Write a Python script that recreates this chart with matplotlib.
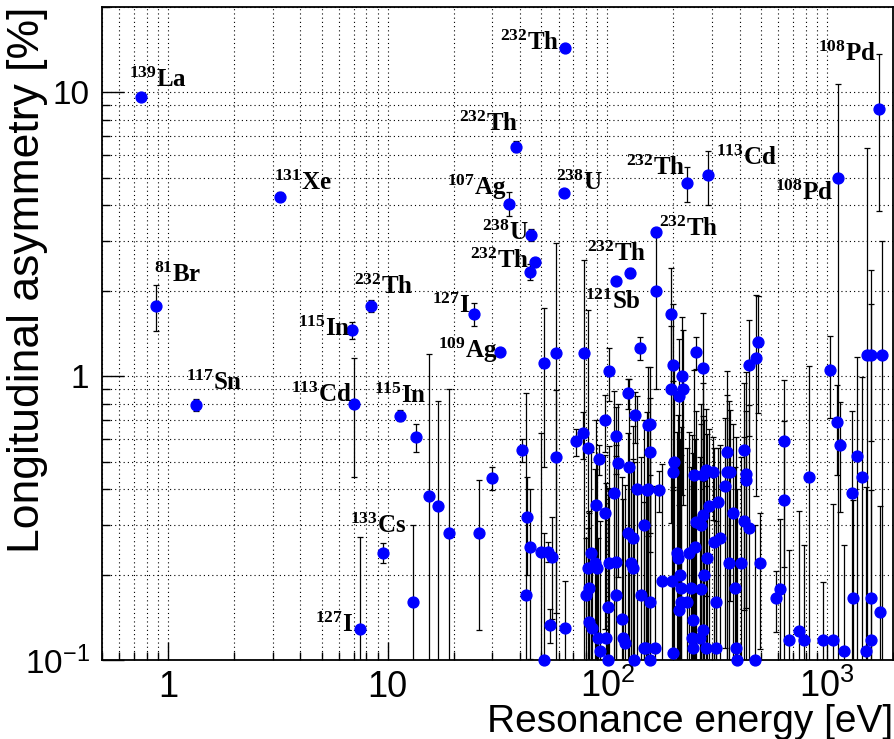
import matplotlib
matplotlib.use("Agg")
import matplotlib.pyplot as plt
import numpy as np
from matplotlib.ticker import FixedLocator, FixedFormatter, NullFormatter

plt.rcParams["mathtext.default"] = "regular"

# resonance energy [eV], asymmetry [%], symmetric error [%]
energy = np.array([
    0.754, 0.885, 1.34, 3.22, 6.9, 7.05, 7.5, 8.39, 9.5, 11.4,
    13.1, 13.4, 15.4, 16.9, 18.95, 24.7, 26.1, 29.7, 32.6, 35.7,
    38.3, 40.9, 43.0, 42.8, 44.3, 44.3, 45.1, 47.0,
    49.9, 51.4, 51.6, 53.6, 55.1, 56.1, 58.1, 58.5, 63.2, 64.3,
    64.3, 72.1, 77.9, 78.1, 79.9, 81.4, 81.4, 82.8, 82.8, 84.3,
    85.0, 87.8, 88.9, 89.4, 90.3, 92.1, 92.3, 97.9, 97.9, 98.5,
    100.3, 100.3, 101.3, 102, 107.6, 109.5, 109.5, 109.9, 110, 112.3,
    116.6, 117.4, 120.6, 123.6, 123.6, 125, 127, 128.1, 130.3, 131.6,
    132.6, 134, 136.3, 141.2, 142.1, 147.6, 147.6, 149.3, 151.5, 152.6,
    153.5, 157, 157, 157, 157, 164.6, 166.5, 166, 171.5, 178.2,
    194.5, 194.5, 197.7, 199.8, 199.8, 199.8, 200.6,
    208, 210, 212, 212, 214.3, 216.2, 217.5, 218, 220.4, 231,
    231.3, 235.4, 240, 242, 245.6, 246.2, 248, 250.6, 252.6, 254,
    266, 265, 268.2, 273.4, 273.4, 273.4, 273.4, 276, 281.5, 281.5,
    283.2, 288, 291.5, 301.5, 306.5, 311.2, 311.2, 318.7, 325.5, 342,
    349.2, 349.2, 358, 361.5, 372.8, 383.5, 386, 389, 406.4, 418,
    418, 428, 430, 440.6, 441.8, 468.4, 475.5, 484.4, 496,
    589, 614, 636, 635, 669, 748, 788, 833, 955, 1034,
    1063, 1108, 1128, 1144, 1195, 1306, 1310, 1365, 1439, 1513,
    1522, 1580, 1585, 1595, 1725, 1743, 1775,
])
asym = np.array([
    9.6, 1.77, 0.793, 4.29, 1.45, 0.80, 0.129, 1.77, 0.239, 0.727,
    0.16, 0.61, 0.379, 0.349, 0.28, 1.655, 0.28, 0.437, 1.22, 4.05,
    6.44, 0.55, 0.32, 0.17, 0.251, 2.33, 3.15, 2.52,
    0.241, 1.11, 0.1, 0.241, 0.133, 0.23, 1.206, 0.521, 4.42, 14.3,
    0.13, 0.589, 0.63, 1.206, 0.17, 0.558, 0.211, 0.18, 0.136, 0.239,
    0.13, 0.22, 0.352, 0.211, 0.12, 0.51, 0.108, 0.702, 0.329, 0.12,
    0.154, 0.1, 1.04, 0.219, 0.389, 0.617, 0.17, 0.222, 2.16, 0.496,
    0.14, 0.12, 0.115, 0.872, 0.28, 0.48, 2.31, 0.22, 0.211, 0.27,
    0.1, 0.731, 0.40, 1.26, 0.17, 0.30, 0.11, 0.11, 0.398, 0.674,
    0.40, 0.68, 0.54, 0.16, 0.1, 0.11, 2.0, 3.22, 0.398, 0.19,
    1.655, 0.903, 0.19, 1.097, 0.46, 0.106, 0.5,
    0.238, 0.228, 0.853, 0.15, 0.2, 0.179, 0.16, 1.0, 0.903, 4.78,
    0.16, 0.238, 0.179, 0.12, 0.11, 0.138, 0.449, 0.251, 0.307, 1.22,
    0.3, 0.12, 0.178, 1.068, 0.449, 0.323, 0.128, 0.2, 0.468, 0.11,
    0.228, 5.1, 0.35, 0.461, 0.26, 0.16, 0.11, 0.36, 0.27, 0.41,
    0.54, 0.461, 0.219, 0.461, 0.329, 0.179, 0.11, 0.1, 0.219, 0.55,
    0.31, 0.432, 0.452, 0.291, 1.097, 0.1, 1.158, 1.325, 0.219,
    0.166, 0.178, 0.592, 0.365, 0.118, 0.127, 0.118, 0.443, 0.118, 1.05,
    0.118, 0.688, 4.99, 0.573, 0.108, 0.387, 0.166, 0.522, 0.443, 0.108,
    1.19, 0.166, 1.19, 0.118, 8.71, 0.148, 1.19,
])
err = np.array([
    0.1, 0.33, 0.04, 0.15, 0.1, 0.36, 0.142, 0.09, 0.02, 0.033,
    0.14, 0.07, 0.82, 0.47, 0.62, 0.155, 0.152, 0.04, 0.02, 0.39,
    0.28, 0.05, 0.12, 0.70, 0.15, 0.15, 0.15, 0.1,
    0.39, 0.63, 0.18, 0.02, 0.018, 0.09, 1.75, 0.374, 0.1, 0.3,
    0.06, 0.065, 0.12, 1.36, 0.1, 1.15, 0.08, 0.15, 0.2, 0.3,
    0.1, 0.25, 0.35, 0.3, 0.15, 0.06, 0.2, 0.16, 0.2, 0.3,
    0.25, 0.3, 0.22, 0.35, 0.5, 0.165, 0.4, 0.3, 0.05, 0.3,
    0.3, 0.25, 0.3, 0.107, 0.35, 0.5, 0.1, 0.25, 0.3, 0.4,
    0.4, 0.15, 0.45, 0.12, 0.35, 0.4, 0.25, 0.3, 0.35, 0.4,
    0.3, 0.4, 0.3, 0.4, 0.35, 0.3, 1.1, 0.05, 0.066, 0.3,
    0.75, 0.6, 0.3, 0.7, 0.5, 0.3, 0.6,
    0.4, 0.5, 0.5, 0.3, 0.4, 0.35, 0.5, 0.62, 0.55, 0.66,
    0.4, 0.4, 0.3, 0.5, 0.3, 0.4, 0.6, 0.35, 0.45, 0.16,
    0.5, 0.4, 0.5, 0.6, 0.5, 0.4, 0.3, 0.5, 0.3, 0.3,
    0.4, 1.1, 0.3, 0.15, 0.3, 0.3, 0.2, 0.2, 0.3, 0.3,
    0.5, 0.4, 0.6, 0.3, 0.35, 0.3, 0.5, 0.3, 0.3, 0.4,
    0.3, 0.6, 0.3, 0.5, 0.48, 0.2, 0.78, 0.585, 0.11,
    0.04, 0.136, 0.38, 0.33, 0.126, 0.207, 0.137, 0.64, 0.07, 0.34,
    0.237, 0.24, 5.7, 0.24, 0.147, 0.37, 0.2, 0.65, 0.55, 0.3,
    5.2, 2.2, 0.6, 0.28, 4.9, 0.2, 1.8,
])

# nucleus labels: text, energy, asymmetry of the label anchor (left, baseline)
label_text = [
    "$^{139}$La", "$^{131}$Xe", "$^{107}$Ag", "$^{232}$Th", "$^{232}$Th",
    "$^{238}$U", "$^{238}$U", "$^{232}$Th", "$^{232}$Th", "$^{121}$Sb",
    "$^{232}$Th", "$^{232}$Th", "$^{113}$Cd", "$^{108}$Pd", "$^{108}$Pd",
    "$^{81}$Br", "$^{117}$Sn", "$^{232}$Th", "$^{115}$In", "$^{127}$I",
    "$^{109}$Ag", "$^{113}$Cd", "$^{115}$In", "$^{133}$Cs", "$^{127}$I",
]
label_x = [0.661, 3.03, 18.56, 21.16, 32.4, 58.5, 27.0, 23.7, 80.9, 79.5,
           172.1, 121.6, 313, 915, 582, 0.867, 1.207, 7.0, 3.90, 15.87,
           17.0, 3.61, 8.62, 6.76, 4.69]
label_y = [10.45, 4.54, 4.36, 7.29, 14.15, 4.54, 3.03, 2.40, 2.54, 1.72,
           3.11, 5.10, 5.53, 12.86, 4.19, 2.15, 0.896, 1.947, 1.388, 1.669,
           1.158, 0.814, 0.804, 0.28, 0.126]

fig = plt.figure(figsize=(8.95, 7.39), dpi=100)
ax = fig.add_axes([102 / 895, 1 - 660 / 739, 791 / 895, 653 / 739])
ax.set_xscale("log")
ax.set_yscale("log")
ax.set_xlim(0.5, 2000)
ax.set_ylim(0.1, 20)

# keep lower bars positive on the log axis, they run off the bottom anyway
err_lo = np.minimum(err, asym - 1e-3)
ax.errorbar(energy, asym, yerr=[err_lo, err], fmt="none", ecolor="black",
            elinewidth=0.9, capsize=2.5, capthick=0.9, zorder=2)
ax.plot(energy, asym, "o", color="blue", ms=7.8, mec="blue",
        clip_on=False, zorder=3)

for t, lx, ly in zip(label_text, label_x, label_y):
    ax.text(lx, ly, t, fontsize=18, family="Liberation Serif",
            weight="bold", ha="left", va="baseline", zorder=4)

xmaj = [1, 10, 100, 1000]
ax.xaxis.set_major_locator(FixedLocator(xmaj))
ax.xaxis.set_major_formatter(FixedFormatter(["1", "10", "$10^{2}$", "$10^{3}$"]))
xmin = [m * 10.0 ** d for d in range(-1, 4) for m in range(2, 10)]
ax.xaxis.set_minor_locator(FixedLocator([v for v in xmin if 0.5 <= v <= 2000]))
ax.xaxis.set_minor_formatter(NullFormatter())

ymaj = [0.1, 1, 10]
ax.yaxis.set_major_locator(FixedLocator(ymaj))
ax.yaxis.set_major_formatter(FixedFormatter(["$10^{-1}$", "1", "10"]))
ymin = [m * 10.0 ** d for d in range(-1, 2) for m in range(2, 10)]
ax.yaxis.set_minor_locator(FixedLocator([v for v in ymin if v <= 20]))
ax.yaxis.set_minor_formatter(NullFormatter())

ax.grid(True, which="both", color="black", linestyle=(0, (1, 2.8)), lw=0.8)
ax.tick_params(which="both", direction="in", top=False, right=False, width=1.0)
ax.tick_params(axis="x", which="major", length=13, pad=26.5, labelsize=26)
ax.tick_params(axis="x", which="minor", length=6)
ax.tick_params(axis="y", which="major", length=16, pad=9, labelsize=24)
ax.tick_params(axis="y", which="minor", length=6)
for lab in ax.get_xticklabels():
    lab.set_family("Liberation Sans")
    lab.set_verticalalignment("baseline")
for lab in ax.get_yticklabels():
    lab.set_family("Liberation Sans")
for sp in ax.spines.values():
    sp.set_linewidth(1.3)

ax.set_xlabel("Resonance energy [eV]", fontsize=28, family="Liberation Sans",
              ha="right")
ax.xaxis.set_label_coords(1.0, -0.067)
ax.set_ylabel("Longitudinal asymmetry [%]", fontsize=32,
              family="Liberation Sans", ha="right")
ax.yaxis.set_label_coords(-0.068, 1.0)

fig.savefig("out.png", dpi=100)
